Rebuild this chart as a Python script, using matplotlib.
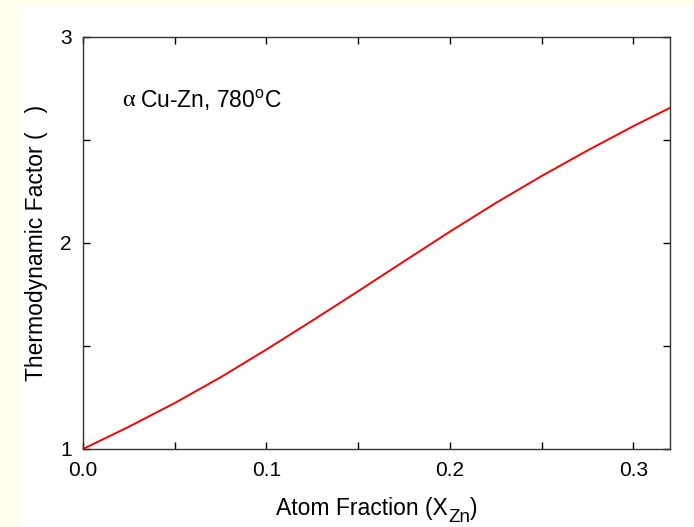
import matplotlib
matplotlib.use("Agg")
import matplotlib.pyplot as plt
from matplotlib.patches import Rectangle
from matplotlib.ticker import MultipleLocator

x_frac = [0.0, 0.025, 0.05, 0.075, 0.1, 0.125, 0.15, 0.175, 0.2, 0.225, 0.25, 0.275, 0.3, 0.32]
thermo_factor = [1.000, 1.108, 1.223, 1.348, 1.483, 1.623, 1.766, 1.911, 2.055, 2.194, 2.325, 2.449, 2.567, 2.656]
x_ticks = [0.0, 0.1, 0.2, 0.3]
x_tick_labels = ["0.0", "0.1", "0.2", "0.3"]
y_ticks = [1, 2, 3]
y_tick_labels = ["1", "2", "3"]

plt.rcParams['font.family'] = ['Liberation Sans', 'DejaVu Sans']
plt.rcParams['mathtext.fontset'] = 'custom'
plt.rcParams['mathtext.rm'] = 'Liberation Sans'
plt.rcParams['mathtext.it'] = 'Liberation Sans:italic'

W, H = 694, 527
fig = plt.figure(figsize=(W / 100, H / 100), dpi=100)
fig.patch.set_facecolor('#FFFFEB')
bg = Rectangle((17 / W, 0), 1, 1 - 6 / H, transform=fig.transFigure,
               facecolor='white', edgecolor='none', zorder=-10)
fig.add_artist(bg)

ax = fig.add_axes([83 / W, 1 - 449 / H, (670 - 83) / W, (449 - 37) / H])
ax.set_zorder(5)
ax.set_facecolor('white')
ax.plot(x_frac, thermo_factor, color='#FF0000', lw=1.4)
ax.set_xlim(0, 0.32)
ax.set_ylim(1, 3)
ax.set_xticks(x_ticks)
ax.set_xticklabels(x_tick_labels, fontsize=15)
ax.set_yticks(y_ticks)
ax.set_yticklabels(y_tick_labels, fontsize=15)
ax.xaxis.set_minor_locator(MultipleLocator(0.05))
ax.yaxis.set_minor_locator(MultipleLocator(0.5))
ax.tick_params(which='both', direction='in', top=True, right=True, width=1,
               length=5, colors='black')
ax.tick_params(axis='x', pad=9)
ax.tick_params(axis='y', pad=8)
for s in ax.spines.values():
    s.set_linewidth(1.0)
    s.set_color('#333333')

# y label
fig.text(37 / W, 1 - 243 / H, "Thermodynamic Factor (   )", fontsize=16.5,
         rotation=90, ha='center', va='center')

# x label built from pieces (large subscript)
fig.canvas.draw()
renderer = fig.canvas.get_renderer()
base_y = 1 - 515 / H
sub_y = 1 - 522 / H
t1 = fig.text(0, base_y, "Atom Fraction (X", fontsize=16.5, va='baseline', ha='left')
t2 = fig.text(0, sub_y, "Zn", fontsize=13.5, va='baseline', ha='left')
t3 = fig.text(0, base_y, ")", fontsize=16.5, va='baseline', ha='left')
w1 = t1.get_window_extent(renderer).width
w2 = t2.get_window_extent(renderer).width
w3 = t3.get_window_extent(renderer).width
total = w1 + w2 + w3
x0 = 377 - total / 2
t1.set_x(x0 / W)
t2.set_x((x0 + w1) / W)
t3.set_x((x0 + w1 + w2) / W)

# annotation
ax.text(0.0213, 2.694, "α", fontsize=17.5, family=['Liberation Serif', 'DejaVu Serif'],
        va='center', ha='left')
ax.text(0.0310, 2.694, r"Cu-Zn, 780$^{\rm o}$C", fontsize=16.5, va='center', ha='left')

fig.savefig("out.png", dpi=100, facecolor=fig.get_facecolor())
